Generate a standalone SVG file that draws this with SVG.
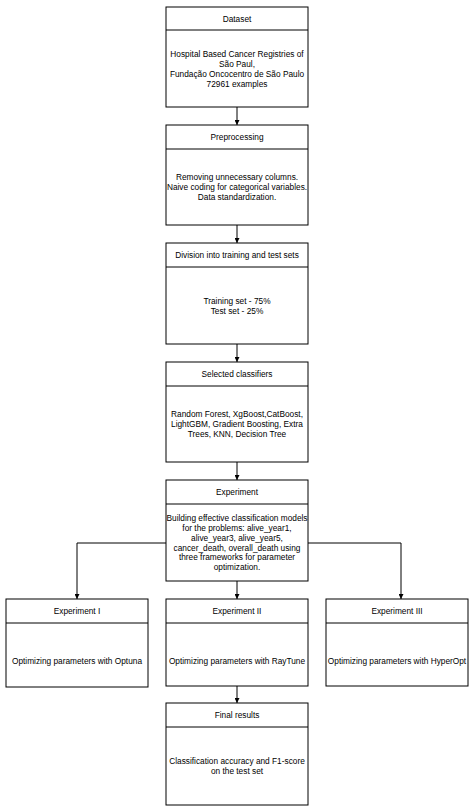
<svg xmlns="http://www.w3.org/2000/svg" width="474" height="810" viewBox="0 0 474 810">
<style>
.box{fill:#fff;stroke:#000;stroke-width:1}
.hdr{fill:none;stroke:#000;stroke-width:1}
text{font-family:"Liberation Sans",Arial,sans-serif;font-size:8.3px;fill:#000;text-anchor:middle;dominant-baseline:central}
.edge{fill:none;stroke:#000;stroke-width:1}
</style>
<defs>
<marker id="arr" viewBox="0 0 10 10" refX="10" refY="5" markerWidth="5" markerHeight="5" orient="auto" markerUnits="userSpaceOnUse">
<path d="M0,0 L10,5 L0,10 z" fill="#000"/>
</marker>
</defs>
<rect width="474" height="810" fill="#fff"/>
<g id="connectors">
<path class="edge" d="M237,107 V125" marker-end="url(#arr)"/>
<path class="edge" d="M237,225 V243" marker-end="url(#arr)"/>
<path class="edge" d="M237,344 V362" marker-end="url(#arr)"/>
<path class="edge" d="M237,462 V480" marker-end="url(#arr)"/>
<path class="edge" d="M166,543 H77 V599" marker-end="url(#arr)"/>
<path class="edge" d="M237,581 V599" marker-end="url(#arr)"/>
<path class="edge" d="M308,543 H401 V599" marker-end="url(#arr)"/>
<path class="edge" d="M237,686 V703" marker-end="url(#arr)"/>
</g>
<g id="dataset">
<rect class="box" x="166" y="7" width="142" height="100"/>
<line class="hdr" x1="166" y1="30" x2="308" y2="30"/>
<text x="237" y="18.5">Dataset</text>
<text x="237" y="53.5">Hospital Based Cancer Registries of</text>
<text x="237" y="63.5">São Paul,</text>
<text x="237" y="73.5">Fundação Oncocentro de São Paulo</text>
<text x="237" y="83.5">72961 examples</text>
</g>
<g id="preprocessing">
<rect class="box" x="166" y="125" width="142" height="100"/>
<line class="hdr" x1="166" y1="149" x2="308" y2="149"/>
<text x="237" y="137">Preprocessing</text>
<text x="237" y="176.5">Removing unnecessary columns.</text>
<text x="237" y="186.5">Naive coding for categorical variables.</text>
<text x="237" y="196.5">Data standardization.</text>
</g>
<g id="division">
<rect class="box" x="166" y="243" width="142" height="101"/>
<line class="hdr" x1="166" y1="267" x2="308" y2="267"/>
<text x="237" y="255">Division into training and test sets</text>
<text x="237" y="301">Training set - 75%</text>
<text x="237" y="311">Test set - 25%</text>
</g>
<g id="classifiers">
<rect class="box" x="166" y="362" width="142" height="100"/>
<line class="hdr" x1="166" y1="386" x2="308" y2="386"/>
<text x="237" y="374">Selected classifiers</text>
<text x="237" y="414">Random Forest, XgBoost,CatBoost,</text>
<text x="237" y="424">LightGBM, Gradient Boosting, Extra</text>
<text x="237" y="434">Trees, KNN, Decision Tree</text>
</g>
<g id="experiment">
<rect class="box" x="166" y="480" width="142" height="101"/>
<line class="hdr" x1="166" y1="504" x2="308" y2="504"/>
<text x="237" y="492">Experiment</text>
<text x="237" y="517.8">Building effective classification models</text>
<text x="237" y="527.7">for the problems: alive_year1,</text>
<text x="237" y="537.6">alive_year3, alive_year5,</text>
<text x="237" y="547.5">cancer_death, overall_death using</text>
<text x="237" y="557.4">three frameworks for parameter</text>
<text x="237" y="567.3">optimization.</text>
</g>
<g id="exp1">
<rect class="box" x="6" y="599" width="142" height="88"/>
<line class="hdr" x1="6" y1="623" x2="148" y2="623"/>
<text x="77" y="611">Experiment I</text>
<text x="77" y="661">Optimizing parameters with Optuna</text>
</g>
<g id="exp2">
<rect class="box" x="166" y="599" width="142" height="87"/>
<line class="hdr" x1="166" y1="623" x2="308" y2="623"/>
<text x="237" y="611">Experiment II</text>
<text x="237" y="661">Optimizing parameters with RayTune</text>
</g>
<g id="exp3">
<rect class="box" x="326" y="599" width="142" height="87"/>
<line class="hdr" x1="326" y1="623" x2="468" y2="623"/>
<text x="397" y="611">Experiment III</text>
<text x="397" y="661">Optimizing parameters with HyperOpt</text>
</g>
<g id="final">
<rect class="box" x="166" y="703" width="142" height="102"/>
<line class="hdr" x1="166" y1="727" x2="308" y2="727"/>
<text x="237" y="715">Final results</text>
<text x="237" y="761">Classification accuracy and F1-score</text>
<text x="237" y="771">on the test set</text>
</g>
</svg>
